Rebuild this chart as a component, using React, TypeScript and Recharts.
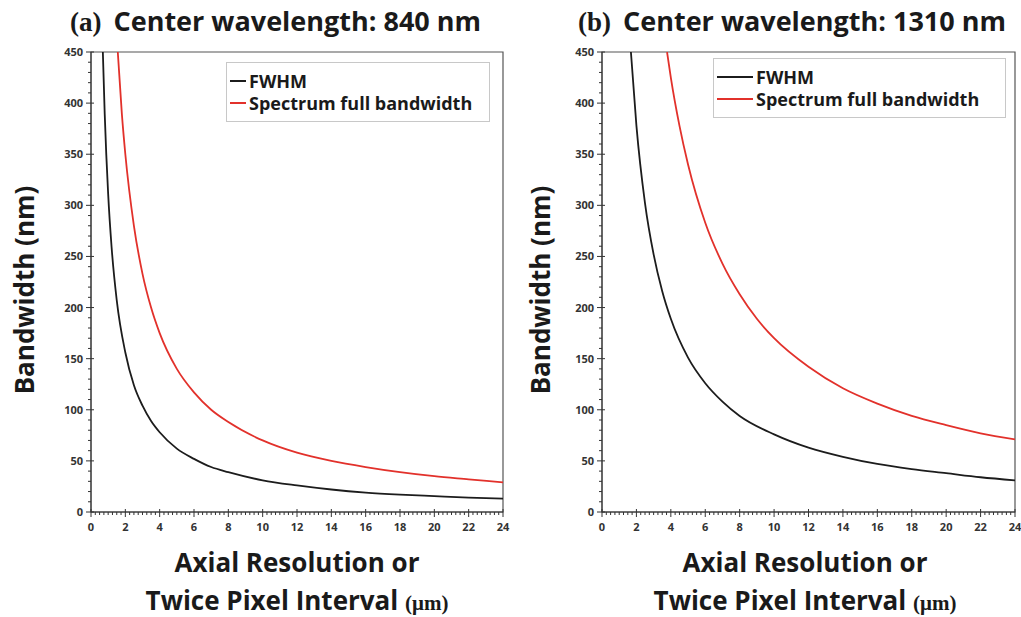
import React from 'react';
import { LineChart, Line, XAxis, YAxis, Legend, ReferenceArea } from 'recharts';

const xTicks = [0, 2, 4, 6, 8, 10, 12, 14, 16, 18, 20, 22, 24];
const yTicks = [0, 50, 100, 150, 200, 250, 300, 350, 400, 450];
const xMinorStep = 0.25;
const yMinorStep = 10;
const xAllTicks = Array.from({ length: 24 / xMinorStep + 1 }, (_, i) => i * xMinorStep);
const yAllTicks = Array.from({ length: 450 / yMinorStep + 1 }, (_, i) => i * yMinorStep);

const seriesNames = ['FWHM', 'Spectrum full bandwidth'];
const seriesColors = ['#1c1c1c', '#e2312b'];

// (a) Center wavelength 840 nm
const fwhm840 = [
  { x: 0.69, y: 450 }, { x: 0.8, y: 389 }, { x: 1, y: 311 }, { x: 1.2, y: 259 },
  { x: 1.5, y: 207 }, { x: 2, y: 156 }, { x: 2.5, y: 124 }, { x: 3, y: 104 },
  { x: 3.5, y: 89 }, { x: 4, y: 78 }, { x: 5, y: 62 }, { x: 6, y: 52 },
  { x: 7, y: 44 }, { x: 8, y: 39 }, { x: 10, y: 31 }, { x: 12, y: 26 },
  { x: 14, y: 22 }, { x: 16, y: 19 }, { x: 18, y: 17 }, { x: 20, y: 15.5 },
  { x: 22, y: 14 }, { x: 24, y: 13 },
];
const full840 = [
  { x: 1.56, y: 450 }, { x: 1.8, y: 389 }, { x: 2, y: 350 }, { x: 2.5, y: 280 },
  { x: 3, y: 233 }, { x: 3.5, y: 200 }, { x: 4, y: 175 }, { x: 5, y: 140 },
  { x: 6, y: 117 }, { x: 7, y: 100 }, { x: 8, y: 88 }, { x: 10, y: 70 },
  { x: 12, y: 58 }, { x: 14, y: 50 }, { x: 16, y: 44 }, { x: 18, y: 39 },
  { x: 20, y: 35 }, { x: 22, y: 32 }, { x: 24, y: 29 },
];

// (b) Center wavelength 1310 nm
const fwhm1310 = [
  { x: 1.68, y: 450 }, { x: 2, y: 378 }, { x: 2.5, y: 302 }, { x: 3, y: 252 },
  { x: 3.5, y: 216 }, { x: 4, y: 189 }, { x: 5, y: 151 }, { x: 6, y: 126 },
  { x: 7, y: 108 }, { x: 8, y: 94 }, { x: 10, y: 76 }, { x: 12, y: 63 },
  { x: 14, y: 54 }, { x: 16, y: 47 }, { x: 18, y: 42 }, { x: 20, y: 38 },
  { x: 22, y: 34 }, { x: 24, y: 31 },
];
const full1310 = [
  { x: 3.78, y: 450 }, { x: 4, y: 425 }, { x: 4.5, y: 378 }, { x: 5, y: 340 },
  { x: 6, y: 283 }, { x: 7, y: 243 }, { x: 8, y: 213 }, { x: 9, y: 189 },
  { x: 10, y: 170 }, { x: 12, y: 142 }, { x: 14, y: 121 }, { x: 16, y: 106 },
  { x: 18, y: 94 }, { x: 20, y: 85 }, { x: 22, y: 77 }, { x: 24, y: 71 },
];

const FONT = '"Open Sans", "Noto Sans", sans-serif';
const TICK_COLOR = '#333';

function XTick(props: any) {
  const { x, y, payload } = props;
  const v = payload.value;
  const major = xTicks.includes(v);
  return (
    <g>
      <line x1={x} x2={x} y1={major ? y - 3 : y} y2={major ? y + 5 : y + 3} stroke={TICK_COLOR} strokeWidth={1} />
      {major && (
        <text x={x} y={y + 19} textAnchor="middle" fontSize={11} fontWeight={700} fill="#333" fontFamily={FONT}>
          {v}
        </text>
      )}
    </g>
  );
}

function YTick(props: any) {
  const { x, y, payload } = props;
  const v = payload.value;
  const major = yTicks.includes(v);
  return (
    <g>
      <line x1={major ? x - 5 : x - 3} x2={major ? x + 3 : x} y1={y} y2={y} stroke={TICK_COLOR} strokeWidth={1} />
      {major && (
        <text x={x - 8} y={y + 4} textAnchor="end" fontSize={11} fontWeight={700} fill="#333" fontFamily={FONT}>
          {v}
        </text>
      )}
    </g>
  );
}

type LegendPos = { left: number; top: number; width: number; height: number; lineW: number };

function LegendBox({ pos }: { pos: LegendPos }) {
  return (
    <div
      style={{
        width: pos.width,
        height: pos.height,
        border: '1px solid #c8c8c8',
        boxSizing: 'border-box',
        background: '#fff',
        fontFamily: FONT,
        fontWeight: 700,
        fontSize: 18,
        color: '#1a1a1a',
        paddingTop: 7,
        lineHeight: '20px',
      }}
    >
      {seriesNames.map((n, i) => (
        <div key={n} style={{ display: 'flex', alignItems: 'center', height: 22, paddingLeft: 3 }}>
          <div style={{ width: pos.lineW, height: 2, background: seriesColors[i], marginRight: 3 }} />
          <span>{n}</span>
        </div>
      ))}
    </div>
  );
}

function Panel({
  left, width, yAxisW, rightM, fwhm, full, legend,
}: {
  left: number; width: number; yAxisW: number; rightM: number;
  fwhm: { x: number; y: number }[]; full: { x: number; y: number }[]; legend: LegendPos;
}) {
  return (
    <div style={{ position: 'absolute', left, top: 0 }}>
      <LineChart width={width} height={617} margin={{ top: 52, right: rightM, bottom: 75, left: 0 }}>
        <XAxis xAxisId="main" type="number" dataKey="x" domain={[0, 24]} ticks={xAllTicks} interval={0}
          tickLine={false} tickSize={0} tickMargin={0} height={30} stroke="#333" tick={XTick} allowDataOverflow />
        <YAxis yAxisId="main" type="number" domain={[0, 450]} ticks={yAllTicks} interval={0}
          tickLine={false} tickSize={0} tickMargin={0} width={yAxisW} stroke="#333" tick={YTick} allowDataOverflow />
        <ReferenceArea xAxisId="main" yAxisId="main" x1={0} x2={24} y1={0} y2={450}
          fill="none" stroke="#555" strokeWidth={1.2} ifOverflow="visible" />
        <Legend
          layout="vertical"
          align="center"
          verticalAlign="middle"
          wrapperStyle={{ position: 'absolute', left: legend.left - left, top: legend.top, width: legend.width, height: legend.height }}
          content={() => <LegendBox pos={legend} />}
        />
        <Line xAxisId="main" yAxisId="main" data={fwhm} dataKey="y" name={seriesNames[0]} type="monotone"
          stroke={seriesColors[0]} strokeWidth={1.8} dot={false} isAnimationActive={false} />
        <Line xAxisId="main" yAxisId="main" data={full} dataKey="y" name={seriesNames[1]} type="monotone"
          stroke={seriesColors[1]} strokeWidth={1.8} dot={false} isAnimationActive={false} />
      </LineChart>
    </div>
  );
}

const titleStyle: React.CSSProperties = {
  position: 'absolute', fontFamily: FONT, fontWeight: 700, fontSize: 27, color: '#1a1a1a', whiteSpace: 'nowrap',
  lineHeight: '34px',
};
const labelStyle: React.CSSProperties = {
  position: 'absolute', fontFamily: FONT, fontWeight: 700, fontSize: 26, color: '#1a1a1a', whiteSpace: 'nowrap',
  transform: 'translate(-50%, -50%)',
};

function Texts({ cx, titleX, letter, wl, yLabelX }: { cx: number; titleX: number; letter: string; wl: string; yLabelX: number }) {
  return (
    <>
      <div style={{ ...titleStyle, left: titleX, top: 4 }}>
        <span style={{ fontFamily: '"Liberation Serif", serif', fontSize: 27 }}>({letter})</span>
        <span style={{ marginLeft: 12 }}>Center wavelength: {wl} nm</span>
      </div>
      <div style={{ ...labelStyle, left: yLabelX, top: 290, transform: 'translate(-50%, -50%) rotate(-90deg)' }}>
        Bandwidth (nm)
      </div>
      <div style={{ ...labelStyle, left: cx, top: 562 }}>Axial Resolution or</div>
      <div style={{ ...labelStyle, left: cx, top: 600 }}>
        Twice Pixel Interval <span style={{ fontFamily: '"Liberation Serif", serif', fontSize: 21 }}>(μm)</span>
      </div>
    </>
  );
}

export default function App() {
  return (
    <div style={{ position: 'absolute', left: 0, top: 0, width: 1021, height: 617, background: '#fff', overflow: 'hidden' }}>
      <Panel left={0} width={510} yAxisW={91} rightM={7} fwhm={fwhm840} full={full840}
        legend={{ left: 226, top: 62, width: 264, height: 60, lineW: 16 }} />
      <Panel left={510} width={511} yAxisW={92} rightM={6} fwhm={fwhm1310} full={full1310}
        legend={{ left: 713, top: 58, width: 293, height: 60, lineW: 36 }} />
      <Texts cx={297} titleX={70} letter="a" wl="840" yLabelX={24} />
      <Texts cx={805} titleX={578} letter="b" wl="1310" yLabelX={540} />
    </div>
  );
}
